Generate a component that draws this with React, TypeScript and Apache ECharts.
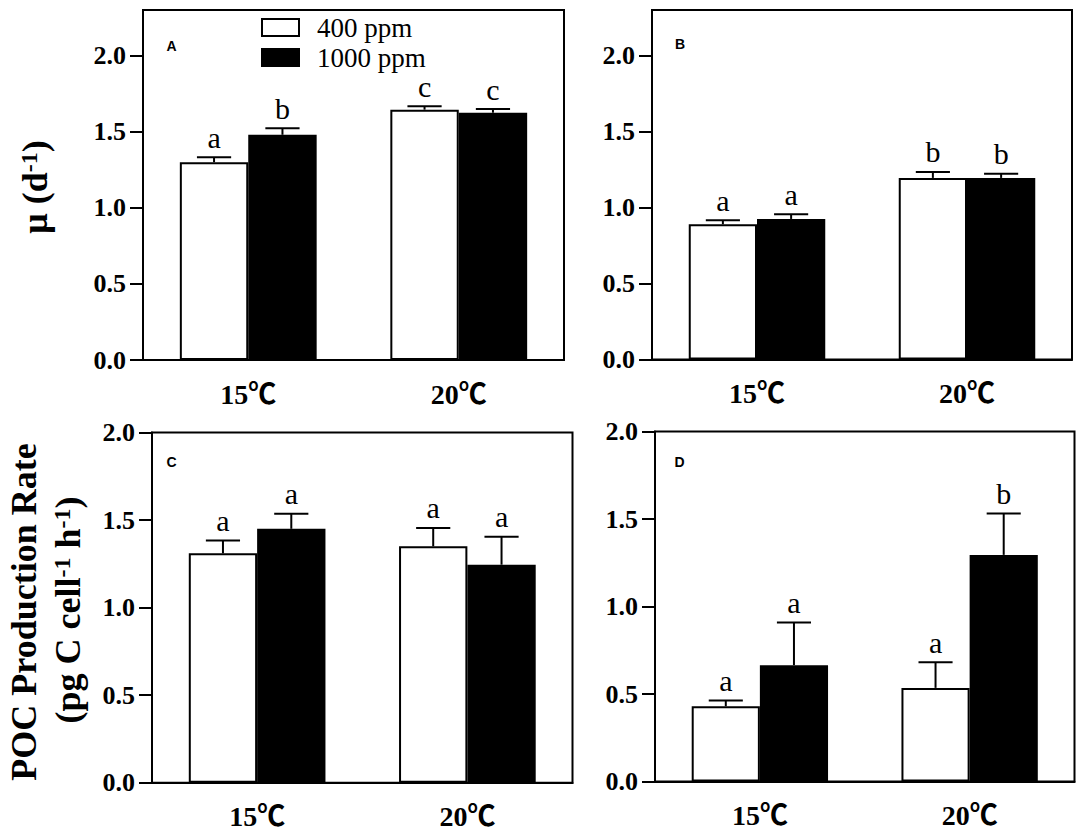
import React, { useEffect, useRef } from 'react';
import * as echarts from 'echarts';

// ---------- data ----------
const categories = ['15℃', '20℃'];
const yTicks = [0, 0.5, 1.0, 1.5, 2.0];
const groupNames = ['400 ppm', '1000 ppm'];
const panelLabels = ['A', 'B', 'C', 'D'];
const yMax = [2.3, 2.3, 2.0, 2.0];

// Panel A: growth rate, µ (d-1)
const aLow = [1.30, 1.645];
const aLowErr = [0.033, 0.022];
const aLowSig = ['a', 'c'];
const aHigh = [1.48, 1.625];
const aHighErr = [0.043, 0.024];
const aHighSig = ['b', 'c'];

// Panel B: growth rate, µ (d-1)
const bLow = [0.89, 1.195];
const bLowErr = [0.027, 0.039];
const bLowSig = ['a', 'b'];
const bHigh = [0.925, 1.195];
const bHighErr = [0.031, 0.028];
const bHighSig = ['a', 'b'];

// Panel C: POC production rate
const cLow = [1.31, 1.35];
const cLowErr = [0.073, 0.105];
const cLowSig = ['a', 'a'];
const cHigh = [1.45, 1.245];
const cHighErr = [0.086, 0.16];
const cHighSig = ['a', 'a'];

// Panel D: POC production rate
const dLow = [0.43, 0.535];
const dLowErr = [0.033, 0.146];
const dLowSig = ['a', 'a'];
const dHigh = [0.665, 1.295];
const dHighErr = [0.244, 0.236];
const dHighSig = ['a', 'b'];

const panels = [
  { low: aLow, lowErr: aLowErr, lowSig: aLowSig, high: aHigh, highErr: aHighErr, highSig: aHighSig },
  { low: bLow, lowErr: bLowErr, lowSig: bLowSig, high: bHigh, highErr: bHighErr, highSig: bHighSig },
  { low: cLow, lowErr: cLowErr, lowSig: cLowSig, high: cHigh, highErr: cHighErr, highSig: cHighSig },
  { low: dLow, lowErr: dLowErr, lowSig: dLowSig, high: dHigh, highErr: dHighErr, highSig: dHighSig },
];

// ---------- layout / style ----------
const grids = [
  { left: 143, top: 10, width: 421, height: 350 },
  { left: 652, top: 10, width: 420, height: 349.5 },
  { left: 152, top: 432.5, width: 420.5, height: 350.2 },
  { left: 655, top: 431.5, width: 419.5, height: 350 },
];
const letterPos = [
  [171.5, 45.5],
  [680, 44],
  [171.5, 461.5],
  [679.5, 461.5],
];
const SERIF = "'Liberation Serif', 'Times New Roman', serif";
const SERIF_CJK = "'Liberation Serif', 'Noto Sans CJK SC', serif";
const CAT_GAP = 0.35;

function errSeries(gi: number, side: number, vals: number[], errs: number[], sigs: string[]) {
  return {
    type: 'custom',
    xAxisIndex: gi,
    yAxisIndex: gi,
    z: 5,
    clip: false,
    silent: true,
    data: vals.map((v, i) => [i, v, errs[i]]),
    encode: { x: 0, y: 1 },
    renderItem: (params: any, api: any) => {
      const ci = api.value(0);
      const v = api.value(1);
      const e = api.value(2);
      const band = api.size([1, 0])[0];
      const bw = (band * (1 - CAT_GAP)) / 2;
      const base = api.coord([ci, v]);
      const top = api.coord([ci, v + e]);
      const cx = base[0] + (side * bw) / 2;
      const cap = bw * 0.25;
      return {
        type: 'group',
        children: [
          { type: 'line', shape: { x1: cx, y1: base[1], x2: cx, y2: top[1] }, style: { stroke: '#000', lineWidth: 2 } },
          { type: 'line', shape: { x1: cx - cap, y1: top[1], x2: cx + cap, y2: top[1] }, style: { stroke: '#000', lineWidth: 2 } },
          {
            type: 'text',
            x: cx,
            y: top[1] - 20,
            style: {
              text: sigs[params.dataIndex],
              fill: '#000',
              fontSize: 30,
              fontFamily: SERIF,
              align: 'center',
              verticalAlign: 'middle',
            },
          },
        ],
      };
    },
  };
}

export default function App() {
  const ref = useRef<HTMLDivElement>(null);
  useEffect(() => {
    if (!ref.current) return;
    const chart = echarts.init(ref.current, undefined, { renderer: 'svg' });

    const xAxis = grids.map((_, gi) => ({
      type: 'category',
      gridIndex: gi,
      data: categories,
      axisLine: { lineStyle: { color: '#000', width: 2 } },
      axisTick: { alignWithLabel: true, length: 12, lineStyle: { color: '#000', width: 2 } },
      axisLabel: {
        color: '#000',
        fontSize: 28,
        fontWeight: 'bold',
        fontFamily: SERIF_CJK,
        margin: 20,
      },
      splitLine: { show: false },
    }));

    const yAxis = grids.map((_, gi) => ({
      type: 'value',
      gridIndex: gi,
      min: 0,
      max: yMax[gi],
      interval: 0.5,
      axisLine: { show: true, lineStyle: { color: '#000', width: 2 } },
      axisTick: { show: true, length: 13, customValues: yTicks, lineStyle: { color: '#000', width: 2 } },
      axisLabel: {
        customValues: yTicks,
        color: '#000',
        fontSize: 26,
        fontWeight: 'bold',
        fontFamily: SERIF,
        margin: 17,
        formatter: (v: number) => v.toFixed(1),
      },
      splitLine: { show: false },
    }));

    const series: any[] = [];
    panels.forEach((p, gi) => {
      series.push({
        type: 'bar',
        name: groupNames[0],
        xAxisIndex: gi,
        yAxisIndex: gi,
        data: p.low,
        barGap: '0%',
        barCategoryGap: CAT_GAP * 100 + '%',
        itemStyle: { color: '#fff', borderColor: '#000', borderWidth: 2 },
        silent: true,
      });
      series.push({
        type: 'bar',
        name: groupNames[1],
        xAxisIndex: gi,
        yAxisIndex: gi,
        data: p.high,
        barGap: '0%',
        barCategoryGap: CAT_GAP * 100 + '%',
        itemStyle: { color: '#000', borderColor: '#000', borderWidth: 2 },
        silent: true,
      });
      series.push(errSeries(gi, -1, p.low, p.lowErr, p.lowSig));
      series.push(errSeries(gi, 1, p.high, p.highErr, p.highSig));
    });

    const richTitle = {
      m: { fontSize: 36, fontWeight: 'bold', fontFamily: SERIF, fill: '#000', color: '#000' },
      s: { fontSize: 24, fontWeight: 'bold', fontFamily: SERIF, fill: '#000', color: '#000', verticalAlign: 'top' },
    };

    const graphic: any[] = [
      ...panelLabels.map((t, i) => ({
        type: 'text',
        x: letterPos[i][0],
        y: letterPos[i][1],
        style: {
          text: t,
          fill: '#000',
          fontSize: 14,
          fontWeight: 'bold',
          fontFamily: "'Liberation Sans', Arial, sans-serif",
          align: 'center',
          verticalAlign: 'middle',
        },
      })),
      {
        type: 'text',
        x: 35,
        y: 187,
        rotation: Math.PI / 2,
        style: {
          text: '{m|μ (d}{s|-1}{m|)}',
          rich: richTitle,
          fill: '#000',
          align: 'center',
          verticalAlign: 'middle',
        },
      },
      {
        type: 'text',
        x: 24,
        y: 612,
        rotation: Math.PI / 2,
        style: {
          text: 'POC Production Rate',
          fill: '#000',
          fontSize: 36,
          fontWeight: 'bold',
          fontFamily: SERIF,
          align: 'center',
          verticalAlign: 'middle',
        },
      },
      {
        type: 'text',
        x: 68,
        y: 610,
        rotation: Math.PI / 2,
        style: {
          text: '{m|(pg C cell}{s|-1}{m| h}{s|-1}{m|)}',
          rich: richTitle,
          fill: '#000',
          align: 'center',
          verticalAlign: 'middle',
        },
      },
    ];

    chart.setOption({
      animation: false,
      backgroundColor: '#fff',
      grid: grids.map((g) => ({
        ...g,
        show: true,
        borderColor: '#000',
        borderWidth: 2,
        backgroundColor: 'transparent',
        containLabel: false,
      })),
      legend: {
        data: groupNames,
        orient: 'vertical',
        left: 261,
        top: 14,
        padding: 0,
        itemWidth: 37,
        itemHeight: 17,
        itemGap: 3,
        icon: 'rect',
        selectedMode: false,
        textStyle: {
          fontSize: 27,
          lineHeight: 27,
          fontFamily: SERIF,
          color: '#000',
          padding: [0, 0, 0, 13],
        },
      },
      xAxis,
      yAxis,
      series,
      graphic,
    });

    return () => chart.dispose();
  }, []);

  return (
    <div
      ref={ref}
      style={{ position: 'absolute', left: 0, top: 0, width: 1084, height: 835, background: '#fff' }}
    />
  );
}
